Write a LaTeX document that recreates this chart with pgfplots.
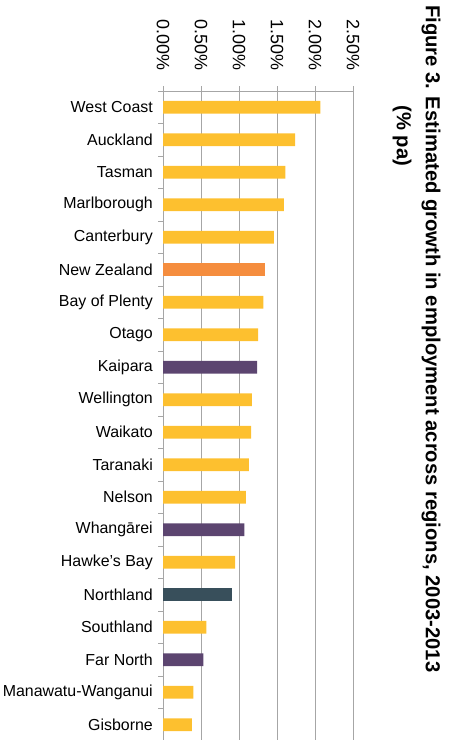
\documentclass[border=0pt]{standalone}
\usepackage{pgfplots}
\pgfplotsset{compat=1.18}
\usepackage{fontspec}
\setmainfont{Liberation Sans}
\definecolor{cy}{HTML}{FDC02F}
\definecolor{co}{HTML}{F58D3E}
\definecolor{cp}{HTML}{5C4570}
\definecolor{cs}{HTML}{384F5B}
\definecolor{gridc}{HTML}{A6A6A6}
\begin{document}
\begin{tikzpicture}
\useasboundingbox (0,0) rectangle (455bp,-740bp);
\begin{axis}[
  at={(163bp,-91bp)}, anchor=north west,
  scale only axis, width=190bp, height=650bp,
  xbar, bar width=12.7bp, bar shift=0pt,
  xmin=0, xmax=2.5, ymin=0.5, ymax=20.5,
  axis x line*=top, axis y line*=left,
  axis line style={gridc, line width=0.8bp, -},
  xtick={0,0.5,1,1.5,2,2.5},
  xticklabels={0.00\%,0.50\%,1.00\%,1.50\%,2.00\%,2.50\%},
  xticklabel style={rotate=-90, anchor=east, font=\fontsize{18}{18}\selectfont, inner sep=0pt},
  xticklabel shift=15bp,
  xmajorgrids, grid style={gridc, line width=0.8bp},
  tick align=outside, major tick length=5bp,
  tick style={gridc, line width=0.8bp},
  ytick={0.5,1.5,...,20.5}, yticklabels={},
  extra y ticks={1,2,...,20},
  extra y tick labels={Gisborne,Manawatu-Wanganui,Far North,Southland,Northland,Hawke's Bay,Whangārei,Nelson,Taranaki,Waikato,Wellington,Kaipara,Otago,Bay of Plenty,New Zealand,Canterbury,Marlborough,Tasman,Auckland,West Coast},
  extra y tick style={tick style={draw=none}, yticklabel style={font=\fontsize{16}{16}\selectfont, anchor=east, inner sep=0pt}},
  yticklabel shift=5bp,
]
\addplot[fill=cy, draw=none] coordinates {
(2.07,20) (1.74,19) (1.61,18) (1.59,17) (1.46,16) (1.32,14) (1.25,13)
(1.17,11) (1.16,10) (1.13,9) (1.09,8) (0.95,6) (0.57,4) (0.40,2) (0.38,1)};
\addplot[fill=co, draw=none] coordinates {(1.34,15)};
\addplot[fill=cp, draw=none] coordinates {(1.24,12) (1.07,7) (0.53,3)};
\addplot[fill=cs, draw=none] coordinates {(0.91,5)};
\end{axis}
\node[rotate=-90, anchor=west, inner sep=0pt, font=\bfseries\fontsize{20.3}{22}\selectfont] at (431bp,-5bp) {Figure 3. Estimated growth in employment across regions, 2003-2013};
\node[rotate=-90, anchor=center, inner sep=0pt, font=\bfseries\fontsize{20.3}{22}\selectfont] at (402bp,-136bp) {(\% pa)};
\end{tikzpicture}
\end{document}
